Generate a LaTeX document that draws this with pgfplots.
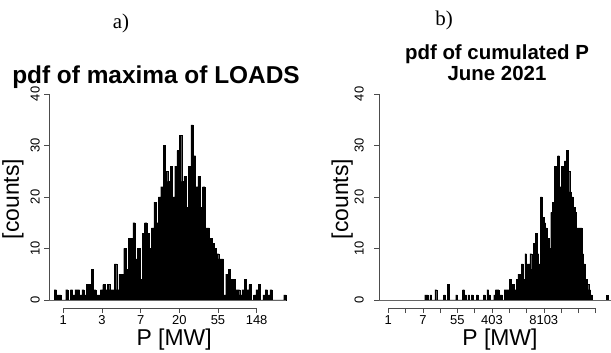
\documentclass[border=0pt]{standalone}
\usepackage{pgfplots}
\usepackage{pgfplotstable}
\pgfplotsset{compat=1.18}
\usepackage{fontspec}
\setmainfont{Liberation Sans}
\newfontfamily\serifrm{Liberation Serif}

\pgfplotstableread{
x h
-0.24 2
-0.18 1
-0.12 1
-0.06 0
0.00 0
0.06 2
0.12 0
0.18 2
0.24 1
0.30 2
0.36 2
0.42 1
0.48 2
0.54 1
0.60 3
0.66 3
0.72 6
0.78 2
0.84 1
0.90 1
0.96 2
1.02 3
1.08 2
1.14 3
1.20 2
1.26 2
1.32 7
1.38 2
1.44 5
1.50 5
1.56 10
1.62 6
1.68 12
1.74 12
1.80 15
1.86 8
1.92 10
1.98 4
2.04 13
2.10 15
2.16 13
2.22 10
2.28 14
2.34 19
2.40 15
2.46 20
2.52 22
2.58 30
2.64 25
2.70 23
2.76 26
2.82 20
2.88 26
2.94 29
3.00 32
3.06 23
3.12 24
3.18 18
3.24 26
3.30 34
3.36 28
3.42 22
3.48 24
3.54 18
3.60 22
3.66 14
3.72 14
3.78 12
3.84 11
3.90 10
3.96 9
4.02 8
4.08 8
4.14 1
4.20 5
4.26 6
4.32 4
4.38 4
4.44 2
4.50 2
4.56 1
4.62 2
4.68 4
4.74 2
4.80 3
4.86 0
4.92 1
4.98 2
5.04 3
5.10 0
5.16 1
5.22 2
5.28 1
5.34 2
5.40 0
5.46 0
5.52 0
5.58 0
5.64 0
5.70 1
5.76 0
}\loadsdata

\pgfplotstableread{
x h
2.1 1
2.2 1
2.3 0
2.4 1
2.5 0
2.6 0
2.7 2
2.8 0
2.9 0
3.0 0
3.1 0
3.2 1
3.3 0
3.4 3
3.5 0
3.6 0
3.7 0
3.8 0
3.9 1
4.0 0
4.1 0
4.2 0
4.3 2
4.4 1
4.5 0
4.6 1
4.7 0
4.8 1
4.9 0
5.0 0
5.1 1
5.2 0
5.3 0
5.4 0
5.5 1
5.6 0
5.7 2
5.8 1
5.9 0
6.0 0
6.1 1
6.2 2
6.3 2
6.4 1
6.5 1
6.6 0
6.7 2
6.8 2
6.9 2
7.0 4
7.1 3
7.2 3
7.3 2
7.4 4
7.5 5
7.6 5
7.7 7
7.8 4
7.9 9
8.0 7
8.1 7
8.2 9
8.3 6
8.4 11
8.5 13
8.6 9
8.7 7
8.8 20
8.9 16
9.0 15
9.1 14
9.2 12
9.3 10
9.4 17
9.5 19
9.6 26
9.7 25
9.8 28
9.9 22
10.0 26
10.1 20
10.2 27
10.3 29
10.4 25
10.5 21
10.6 20
10.7 18
10.8 17
10.9 14
11.0 14
11.1 14
11.2 9
11.3 7
11.4 4
11.5 3
11.6 2
11.7 1
11.8 0
}\cumdata

\pgfplotsset{
  rstyle/.style={
    scale only axis, clip=false,
    axis line style={draw=none},
    xtick pos=left, ytick pos=left,
    tick align=outside,
    major tick length=5bp,
    every tick/.style={black!70, line width=0.5bp},
    ymin=-1.6, ymax=41.6,
    height=222.5bp,
    ytick={0,10,20,30,40},
    yticklabels={0,10,20,30,40},
    tick label style={font=\fontsize{13}{13}\selectfont},
    xticklabel style={anchor=north, inner sep=0pt, yshift=-2bp},
    xlabel={P [MW]},
    ylabel={[counts]},
    label style={font=\fontsize{23}{23}\selectfont},
  },
  histbar/.style={ybar interval, fill=black, draw=black, line width=0.2bp},
}

\begin{document}
\begin{tikzpicture}[x=1bp,y=1bp]
\useasboundingbox (0,0) rectangle (611,352);

\node[font=\serifrm\fontsize{21}{21}\selectfont] at (121,329) {a)};
\node[font=\serifrm\fontsize{21}{21}\selectfont] at (444,332) {b)};
\node[font=\bfseries\fontsize{24.5}{24.5}\selectfont, anchor=base] at (156,269) {pdf of maxima of LOADS};
\node[font=\bfseries\fontsize{20.5}{20.5}\selectfont, anchor=base] at (497,293) {pdf of cumulated P};
\node[font=\bfseries\fontsize{20.5}{20.5}\selectfont, anchor=base] at (497,272) {June 2021};

\begin{axis}[rstyle,
  at={(49bp,43.8bp)}, anchor=south west,
  width=246.3bp,
  xmin=-0.37, xmax=6.0,
  xtick={0,1,2,3,4,5},
  xticklabels={1,3,7,20,55,148},
  yticklabel style={xshift=-4bp, rotate=90, anchor=south, inner sep=0pt},
  xlabel style={at={(axis description cs:0.508,-0.143)}, anchor=center},
  ylabel style={at={(axis description cs:-0.146,0.49)}, anchor=center},
]
\addplot[histbar] table[x=x,y=h] {\loadsdata};
\addplot[black!60, line width=0.4bp] coordinates {(-0.37,0) (5.76,0)};
\addplot[black!70, line width=0.5bp] coordinates {(0,-1.6) (5,-1.6)};
\addplot[black!70, line width=0.5bp] coordinates {(-0.37,0) (-0.37,40)};
\end{axis}

\begin{axis}[rstyle,
  at={(379bp,43.8bp)}, anchor=south west,
  width=232.1bp,
  xmin=-0.54, xmax=12.9,
  xtick={0,1,2,3,4,5,6,7,8,9,10,11,12},
  xticklabels={1,,7,,55,,403,,,8103,,,},
  yticklabel style={xshift=-10bp, rotate=90, anchor=south, inner sep=0pt},
  xlabel style={at={(axis description cs:0.521,-0.143)}, anchor=center},
  ylabel style={at={(axis description cs:-0.159,0.49)}, anchor=center},
]
\addplot[histbar] table[x=x,y=h] {\cumdata};
\addplot[histbar] coordinates {(12.6,1) (12.7,0)};
\addplot[black!60, line width=0.4bp] coordinates {(-0.54,0) (12.9,0)};
\addplot[black!70, line width=0.5bp] coordinates {(0,-1.6) (12,-1.6)};
\addplot[black!70, line width=0.5bp] coordinates {(-0.54,0) (-0.54,40)};
\end{axis}
\end{tikzpicture}
\end{document}
